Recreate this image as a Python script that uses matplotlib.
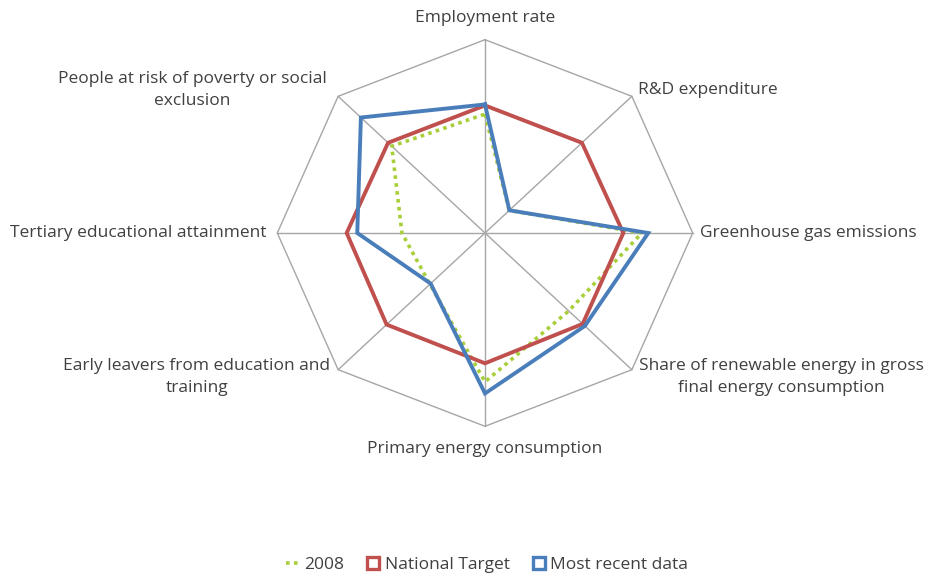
import numpy as np
import matplotlib
matplotlib.use("Agg")
import matplotlib.pyplot as plt
from matplotlib.lines import Line2D

plt.rcParams['font.family'] = ['Open Sans', 'DejaVu Sans']

categories = [
    "Employment rate",
    "R&D expenditure",
    "Greenhouse gas emissions",
    "Share of renewable energy in gross\nfinal energy consumption",
    "Primary energy consumption",
    "Early leavers from education and\ntraining",
    "Tertiary educational attainment",
    "People at risk of poverty or social\nexclusion",
]
series_names = ["2008", "National Target", "Most recent data"]
values_2008 = [0.615, 0.165, 0.755, 0.57, 0.77, 0.375, 0.40, 0.635]
values_target = [0.66, 0.66, 0.666, 0.665, 0.674, 0.67, 0.666, 0.66]
values_recent = [0.665, 0.166, 0.786, 0.68, 0.83, 0.37, 0.615, 0.845]

# label anchor positions (in axis units, outer ring = 1)
label_pos = [(0.0, 1.112), (0.737, 0.74), (1.035, 0.0), (1.425, -0.745),
             (0.0, -1.117), (-1.387, -0.745), (-1.05, 0.0), (-1.41, 0.74)]
label_ha = ["center", "left", "left", "center", "center", "center", "right", "center"]

W, H = 931, 576
cx, cy = 485, 233
Rh, Rv = 207.7, 193.3

fig = plt.figure(figsize=(W / 100, H / 100), dpi=100)
ax = fig.add_axes([(cx - Rh) / W, (H - cy - Rv) / H, 2 * Rh / W, 2 * Rv / H])
ax.set_xlim(-1, 1)
ax.set_ylim(-1, 1)
ax.axis("off")

n = len(categories)
theta = np.arange(n) * 2 * np.pi / n

def xy(vals):
    v = np.asarray(vals + vals[:1], dtype=float)
    t = np.concatenate([theta, theta[:1]])
    return v * np.sin(t), v * np.cos(t)

grid_c = "#a6a6a6"
ox, oy = xy([1.0] * n)
ax.plot(ox, oy, color=grid_c, lw=1.0, clip_on=False, zorder=1)
for t in theta:
    ax.plot([0, np.sin(t)], [0, np.cos(t)], color=grid_c, lw=1.0, clip_on=False, zorder=1)

c_green = "#a8cf3a"
c_red = "#c0504d"
c_blue = "#4a7ebb"

x, y = xy(values_target)
ax.plot(x, y, color=c_red, lw=2.8, clip_on=False, zorder=3, solid_joinstyle="miter")
x, y = xy(values_2008)
ax.plot(x, y, color=c_green, lw=2.6, linestyle=(0, (1, 1.2)), clip_on=False, zorder=2)
x, y = xy(values_recent)
ax.plot(x, y, color=c_blue, lw=2.8, clip_on=False, zorder=4, solid_joinstyle="miter")

txt_c = "#404040"
for lab, (lx, ly), ha in zip(categories, label_pos, label_ha):
    ax.text(lx, ly, lab, ha=ha, va="center", multialignment="center",
            fontsize=12.5, color=txt_c, linespacing=1.5, clip_on=False)

handles = [
    Line2D([], [], color=c_green, lw=2.6, linestyle=(0, (1, 1.2))),
    Line2D([], [], color=c_red, marker="s", markersize=8.5, markerfacecolor="white",
           markeredgecolor=c_red, markeredgewidth=2.4, linestyle="none"),
    Line2D([], [], color=c_blue, marker="s", markersize=8.5, markerfacecolor="white",
           markeredgecolor=c_blue, markeredgewidth=2.4, linestyle="none"),
]
fig.legend(handles, series_names, loc="center", bbox_to_anchor=(0.523, 1 - 565 / H),
           ncol=3, frameon=False, fontsize=12.5, handlelength=0.8, handletextpad=0.25,
           columnspacing=1.3, labelcolor=txt_c)

fig.savefig("out.png", dpi=100, facecolor="white")
